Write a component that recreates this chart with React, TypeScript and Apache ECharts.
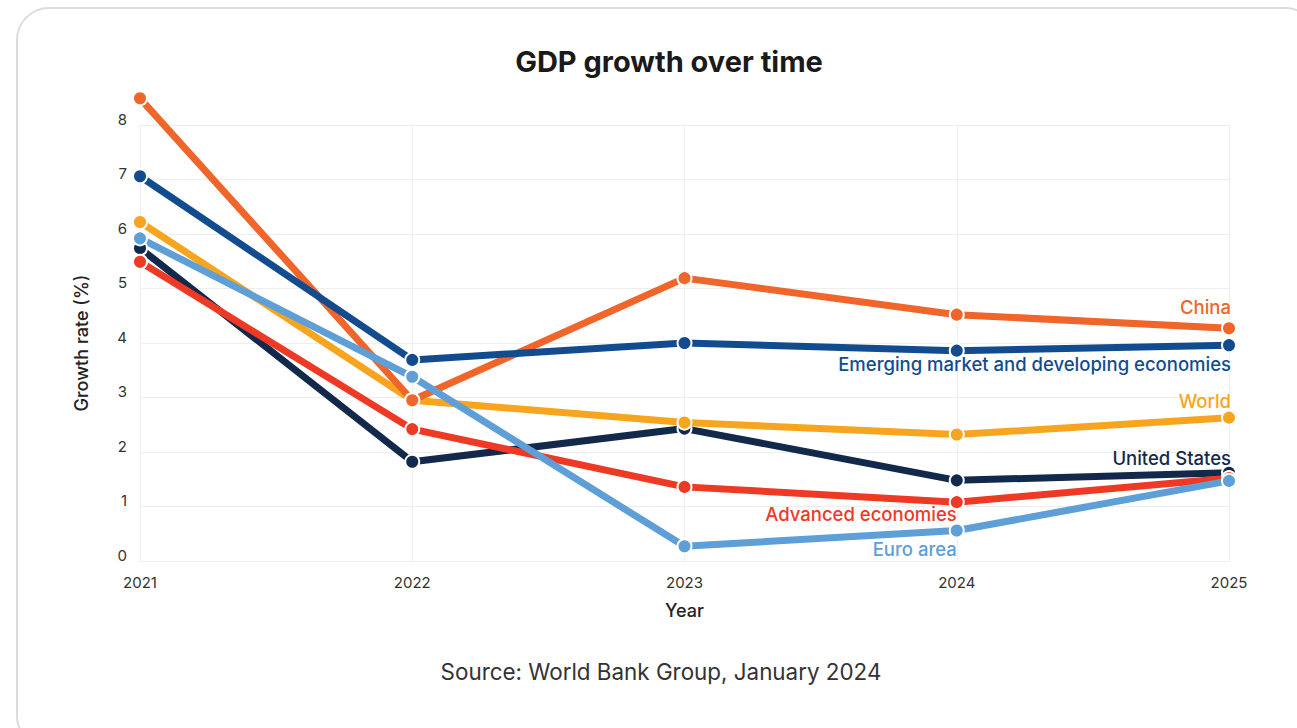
import React, { useEffect, useRef } from "react";
import * as echarts from "echarts";

const years = ["2021", "2022", "2023", "2024", "2025"];
const yMin = 0;
const yMax = 8;
const yInterval = 1;

const china = [8.49, 2.95, 5.19, 4.52, 4.27];
const emde = [7.06, 3.69, 4.0, 3.86, 3.96];
const world = [6.22, 2.95, 2.54, 2.32, 2.63];
const unitedStates = [5.74, 1.82, 2.43, 1.48, 1.62];
const advanced = [5.49, 2.42, 1.36, 1.08, 1.52];
const euroArea = [5.92, 3.38, 0.27, 0.56, 1.47];

const titleText = "GDP growth over time";
const sourceText = "Source: World Bank Group, January 2024";

const FONT = "Inter, 'Noto Sans', sans-serif";

type Cfg = {
  name: string;
  data: number[];
  color: string;
  labelIndex: number;
  pos: "top" | "bottom";
  offset: [number, number];
};

const seriesCfg: Cfg[] = [
  { name: "United States", data: unitedStates, color: "#13294b", labelIndex: 4, pos: "top", offset: [2, 8] },
  { name: "Advanced economies", data: advanced, color: "#ee3a24", labelIndex: 3, pos: "bottom", offset: [0, -11] },
  { name: "World", data: world, color: "#f7a51e", labelIndex: 4, pos: "top", offset: [2, 6] },
  { name: "China", data: china, color: "#f0652a", labelIndex: 4, pos: "top", offset: [2, 1] },
  { name: "Emerging market and developing economies", data: emde, color: "#124c8f", labelIndex: 4, pos: "bottom", offset: [2, -4] },
  { name: "Euro area", data: euroArea, color: "#5e9fd7", labelIndex: 3, pos: "bottom", offset: [0, -4] },
];

export default function App() {
  const ref = useRef<HTMLDivElement>(null);
  useEffect(() => {
    if (!ref.current) return;
    const chart = echarts.init(ref.current, undefined, { renderer: "svg" });
    const series = seriesCfg.map((c) => ({
      name: c.name,
      type: "line",
      clip: false,
      data: c.data.map((v, i) =>
        i === c.labelIndex
          ? {
              value: v,
              label: {
                show: true,
                formatter: c.name,
                position: c.pos,
                align: "right",
                offset: c.offset,
                color: c.color,
                fontSize: 18.5,
                fontWeight: 500,
                fontFamily: FONT,
              },
            }
          : v
      ),
      symbol: "circle",
      symbolSize: 14,
      showSymbol: true,
      lineStyle: { color: c.color, width: 7 },
      itemStyle: { color: c.color, borderColor: "#ffffff", borderWidth: 2 },
      emphasis: { disabled: true },
    }));
    chart.setOption({
      animation: false,
      backgroundColor: "#ffffff",
      textStyle: { fontFamily: FONT },
      title: {
        text: titleText,
        left: 664,
        top: 42,
        textAlign: "center",
        textStyle: { fontSize: 29, fontWeight: "bold", color: "#1a1a1a", fontFamily: FONT },
      },
      graphic: [
        {
          type: "rect",
          z: -10,
          silent: true,
          shape: { x: 17, y: 8, width: 1300, height: 740, r: 32 },
          style: { fill: "#ffffff", stroke: "#dcdcdc", lineWidth: 2 },
        },
        {
          type: "text",
          x: 661,
          y: 671,
          style: {
            text: sourceText,
            align: "center",
            verticalAlign: "middle",
            fontSize: 22.4,
            fill: "#333333",
            fontFamily: FONT,
          },
        },
      ],
      grid: { left: 140, right: 68, top: 125, bottom: 167, containLabel: false },
      xAxis: {
        type: "category",
        data: years,
        boundaryGap: false,
        name: "Year",
        nameLocation: "middle",
        nameGap: 40,
        nameTextStyle: { fontSize: 18, fontWeight: 500, color: "#222", fontFamily: FONT, verticalAlign: "top" },
        axisLine: { show: true, lineStyle: { color: "#eeeeee", width: 1 } },
        axisTick: { show: false },
        axisLabel: { fontSize: 15, color: "#333", margin: 14, fontFamily: FONT },
        splitLine: { show: true, lineStyle: { color: "#eeeeee", width: 1 } },
      },
      yAxis: {
        type: "value",
        min: yMin,
        max: yMax,
        interval: yInterval,
        name: "Growth rate (%)",
        nameLocation: "middle",
        nameGap: 50,
        nameTextStyle: { fontSize: 18, fontWeight: 500, color: "#222", fontFamily: FONT },
        axisLine: { show: true, lineStyle: { color: "#eeeeee", width: 1 } },
        axisTick: { show: false },
        axisLabel: {
          fontSize: 15,
          color: "#333",
          margin: 13,
          verticalAlign: "bottom",
          lineHeight: 12,
          fontFamily: FONT,
        },
        splitLine: { show: true, lineStyle: { color: "#eeeeee", width: 1 } },
      },
      series,
    });
    return () => chart.dispose();
  }, []);
  return (
    <div style={{ position: "fixed", left: 0, top: 0, width: 1297, height: 728, background: "#fff" }}>
      <div ref={ref} style={{ width: 1297, height: 728 }} />
    </div>
  );
}
